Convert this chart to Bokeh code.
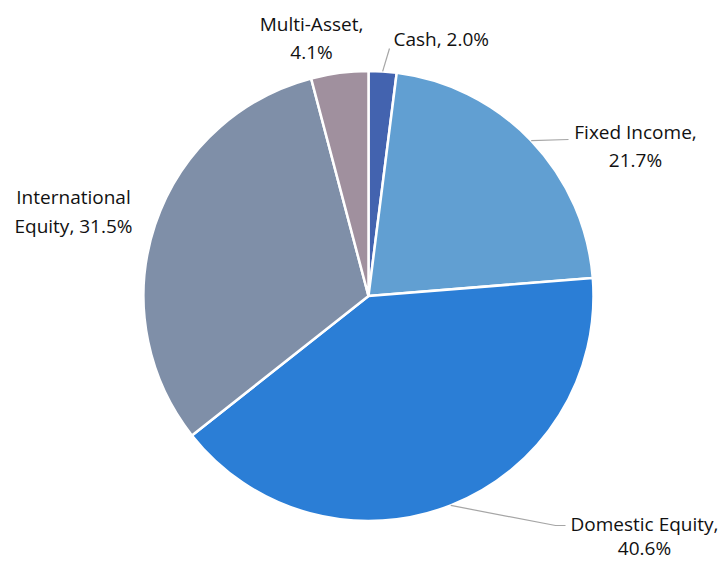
import math
from bokeh.plotting import figure
from bokeh.models import Range1d
from bokeh.core.properties import value
from bokeh.embed import file_html
from bokeh.resources import INLINE

# ---- data ----
categories = ["Cash", "Fixed Income", "Domestic Equity", "International Equity", "Multi-Asset"]
shares = [2.0, 21.7, 40.6, 31.5, 4.1]
label_lines = [
    ["Cash, 2.0%"],
    ["Fixed Income,", "21.7%"],
    ["Domestic Equity,", "40.6%"],
    ["International", "Equity, 31.5%"],
    ["Multi-Asset,", "4.1%"],
]
colors = ["#4363AF", "#619FD2", "#2B7ED6", "#7F8FA8", "#A0909E"]

# ---- layout (screen pixel coordinates, y downward) ----
W, H = 725, 561
def sy(y):  # screen y -> data y
    return H - y

cx, cy, R = 368, sy(295.5), 225
TEXT_SHIFT = -8
label_layout = {
    "Cash": dict(x=393, align="left", base=[46]),
    "Fixed Income": dict(x=635, align="center", base=[139, 167]),
    "Domestic Equity": dict(x=644, align="center", base=[531, 555]),
    "International Equity": dict(x=73, align="center", base=[204, 233]),
    "Multi-Asset": dict(x=311, align="center", base=[31, 59]),
}
leader_ends = {
    "Cash": [(389, 48)],
    "Fixed Income": [(568, 139)],
    "Domestic Equity": [(555, 525), (565, 525)],
}

p = figure(width=W, height=H, output_backend="svg", toolbar_location=None,
           x_range=Range1d(0, W), y_range=Range1d(0, H),
           min_border=0, background_fill_color="white", border_fill_color="white")
p.axis.visible = False
p.grid.visible = False
p.outline_line_color = None

total = sum(shares)
cum = 0.0
mids = {}
for cat, v, col in zip(categories, shares, colors):
    a0 = math.pi / 2 - 2 * math.pi * cum / total
    cum += v
    a1 = math.pi / 2 - 2 * math.pi * cum / total
    p.wedge(x=cx, y=cy, radius=R, start_angle=a1, end_angle=a0,
            direction="anticlock", fill_color=col, line_color="white", line_width=2.5)
    mids[cat] = (a0 + a1) / 2

for cat, ends in leader_ends.items():
    m = mids[cat]
    xs = [cx + R * math.cos(m)] + [e[0] for e in ends]
    ys = [cy + R * math.sin(m)] + [sy(e[1]) for e in ends]
    p.line(xs, ys, line_color="#A6A6A6", line_width=1.2)

for cat, lines in zip(categories, label_lines):
    lay = label_layout[cat]
    for txt, b in zip(lines, lay["base"]):
        p.text(x=[lay["x"]], y=[sy(b + TEXT_SHIFT)], text=[txt], text_font=value("Open Sans"),
               text_font_size="19px", text_color="#111111", text_align=lay["align"],
               text_baseline="alphabetic")

open("out.html", "w").write(file_html(p, INLINE))
